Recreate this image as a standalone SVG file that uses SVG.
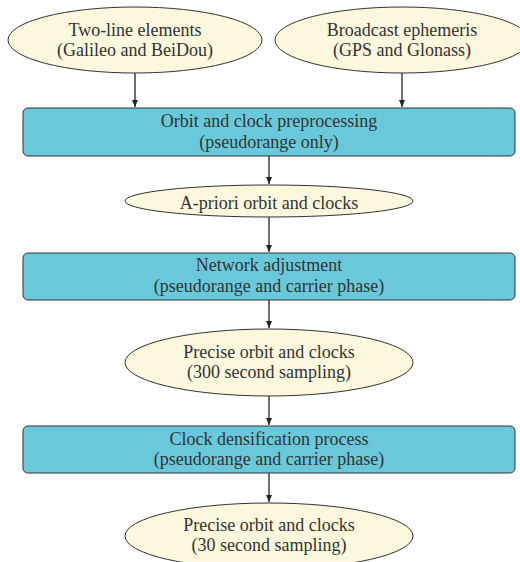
<svg xmlns="http://www.w3.org/2000/svg" width="520" height="562" viewBox="0 0 520 562">
<defs>
<marker id="ah" markerWidth="8" markerHeight="8" refX="7" refY="4" orient="auto" markerUnits="userSpaceOnUse">
<path d="M0,1 L7,4 L0,7 Z" fill="#222"/>
</marker>
<style>
.ell{fill:#fbf8dd;stroke:#333;stroke-width:1}
.box{fill:#69c9da;stroke:#333;stroke-width:1}
text{font-family:'Liberation Serif','Times New Roman',serif;font-size:18px;fill:#333;text-anchor:middle;dominant-baseline:central}
.conn line{stroke:#222;stroke-width:1.3;marker-end:url(#ah)}
</style>
</defs>
<rect width="520" height="562" fill="#fff"/>
<g class="conn">
<line x1="135" y1="73" x2="135" y2="107"/>
<line x1="402" y1="73" x2="402" y2="107"/>
<line x1="269" y1="156" x2="269" y2="184"/>
<line x1="269" y1="217" x2="269" y2="252"/>
<line x1="269" y1="300" x2="269" y2="328"/>
<line x1="269" y1="396" x2="269" y2="425"/>
<line x1="269" y1="473" x2="269" y2="502"/>
</g>
<g id="tle">
<ellipse class="ell" cx="135" cy="40" rx="127" ry="33"/>
<text x="135" y="30">Two-line elements</text>
<text x="135" y="50">(Galileo and BeiDou)</text>
</g>
<g id="brdc">
<ellipse class="ell" cx="402" cy="40" rx="127" ry="33"/>
<text x="402" y="30">Broadcast ephemeris</text>
<text x="402" y="50">(GPS and Glonass)</text>
</g>
<g id="prep">
<rect class="box" x="23" y="108" width="492" height="48" rx="5"/>
<text x="269" y="121">Orbit and clock preprocessing</text>
<text x="269" y="142">(pseudorange only)</text>
</g>
<g id="apriori">
<ellipse class="ell" cx="269" cy="201" rx="144" ry="16"/>
<text x="269" y="203">A-priori orbit and clocks</text>
</g>
<g id="netadj">
<rect class="box" x="23" y="253" width="492" height="47" rx="5"/>
<text x="269" y="265">Network adjustment</text>
<text x="269" y="286">(pseudorange and carrier phase)</text>
</g>
<g id="precise300">
<ellipse class="ell" cx="269" cy="362.5" rx="144" ry="33.5"/>
<text x="269" y="352">Precise orbit and clocks</text>
<text x="269" y="372">(300 second sampling)</text>
</g>
<g id="densify">
<rect class="box" x="23" y="426" width="492" height="47" rx="5"/>
<text x="269" y="439">Clock densification process</text>
<text x="269" y="459">(pseudorange and carrier phase)</text>
</g>
<g id="precise30">
<ellipse class="ell" cx="269" cy="536" rx="144" ry="33"/>
<text x="269" y="525">Precise orbit and clocks</text>
<text x="269" y="545">(30 second sampling)</text>
</g>
</svg>
